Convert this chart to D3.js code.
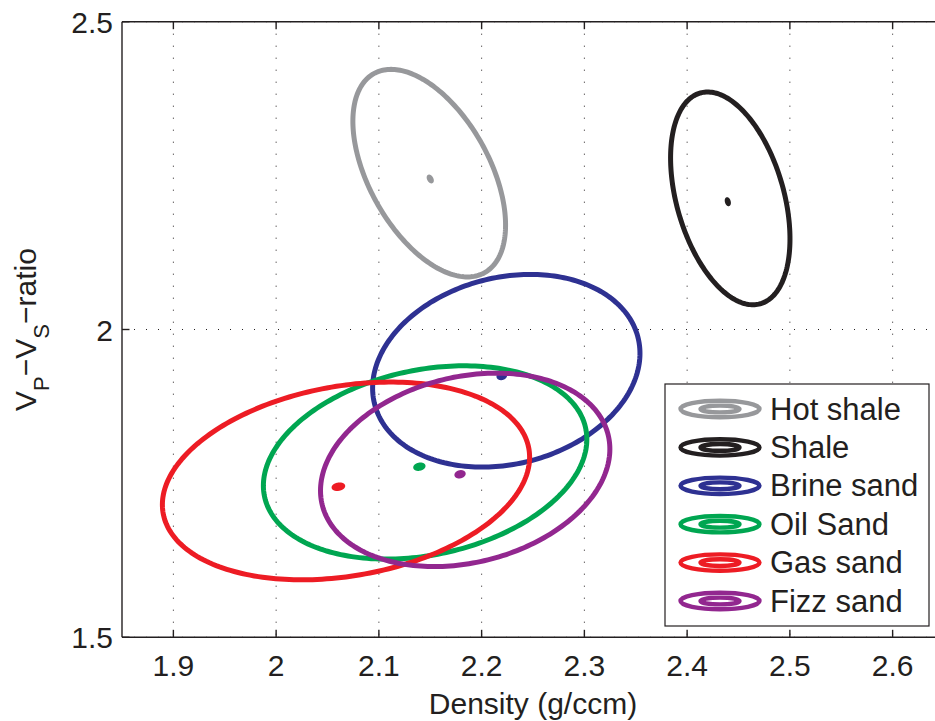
<!DOCTYPE html>
<html>
<head>
<meta charset="utf-8">
<script src="https://cdn.jsdelivr.net/npm/d3@7"></script>
<style>
  html, body { margin: 0; padding: 0; background: #fff; }
  svg { display: block; font-family: "Liberation Sans", Arial, Helvetica, sans-serif; }
</style>
</head>
<body>
<svg id="chart" width="935" height="721"></svg>
<script>
// ---- data ----
const categories = ["Hot shale", "Shale", "Brine sand", "Oil Sand", "Gas sand", "Fizz sand"];
const colors = ["#97989b", "#231f20", "#2e3192", "#00a651", "#ed1c24", "#92278f"];
// ellipse centre (density, Vp/Vs)
const densityCenter = [2.149, 2.442, 2.224, 2.145, 2.068, 2.184];
const vpvsCenter = [2.254, 2.213, 1.933, 1.784, 1.754, 1.772];
// ellipse half extents and correlation
const densitySpread = [0.0743, 0.0581, 0.1301, 0.1574, 0.1787, 0.1408];
const vpvsSpread = [0.1686, 0.1728, 0.1565, 0.1570, 0.1606, 0.1571];
const correlation = [-0.50, -0.38, 0.18, 0.24, 0.24, 0.215];
// small mean markers
const meanDensity = [2.150, 2.4396, 2.2196, 2.1394, 2.0606, 2.179];
const meanVpvs = [2.2445, 2.2076, 1.9245, 1.7771, 1.7446, 1.7648];
// axes
const xTicks = [1.9, 2.0, 2.1, 2.2, 2.3, 2.4, 2.5, 2.6];
const xTickLabels = ["1.9", "2", "2.1", "2.2", "2.3", "2.4", "2.5", "2.6"];
const yTicks = [1.5, 2.0, 2.5];
const yTickLabels = ["1.5", "2", "2.5"];
const xDomain = [1.85, 2.65];
const yDomain = [1.5, 2.5];

(function () {
// ---- layout ----
const svg = d3.select("#chart");
const pL = 122, pR = 944, pT = 21.7, pB = 637.3;
const x = d3.scaleLinear().domain(xDomain).range([pL, pR]);
const y = d3.scaleLinear().domain(yDomain).range([pB, pT]);
const ink = "#231f20";

// grid
const grid = svg.append("g");
grid.selectAll("line.gx").data(xTicks).join("line")
  .attr("x1", d => x(d)).attr("x2", d => x(d))
  .attr("y1", pT).attr("y2", pB)
  .attr("stroke", ink).attr("stroke-width", 1).attr("stroke-dasharray", "1,11");
grid.selectAll("line.gy").data(yTicks).join("line")
  .attr("y1", d => y(d)).attr("y2", d => y(d))
  .attr("x1", pL).attr("x2", pR)
  .attr("stroke", ink).attr("stroke-width", 1).attr("stroke-dasharray", "1,11");

// ellipses
const N = 240;
const ts = d3.range(N).map(i => 2 * Math.PI * i / N);
const line = d3.line().curve(d3.curveLinearClosed);
function ellipsePts(i, cxv, cyv, k) {
  const r = correlation[i];
  return ts.map(t => [
    x(cxv + k * densitySpread[i] * Math.cos(t)),
    y(cyv + k * vpvsSpread[i] * (r * Math.cos(t) + Math.sqrt(1 - r * r) * Math.sin(t)))
  ]);
}
const eg = svg.append("g");
categories.forEach((c, i) => {
  eg.append("path")
    .attr("d", line(ellipsePts(i, densityCenter[i], vpvsCenter[i], 1)))
    .attr("fill", "none").attr("stroke", colors[i]).attr("stroke-width", 5);
  eg.append("path")
    .attr("d", line(ellipsePts(i, meanDensity[i], meanVpvs[i], 0.03)))
    .attr("fill", colors[i]).attr("stroke", colors[i]).attr("stroke-width", 2.6);
});

// axes box lines and ticks
const ax = svg.append("g").attr("stroke", ink).attr("stroke-width", 1.4);
ax.append("line").attr("x1", pL).attr("x2", pR).attr("y1", pB).attr("y2", pB);
ax.append("line").attr("x1", pL).attr("x2", pR).attr("y1", pT).attr("y2", pT);
ax.append("line").attr("x1", pL).attr("x2", pL).attr("y1", pT).attr("y2", pB);
ax.append("line").attr("x1", pR).attr("x2", pR).attr("y1", pT).attr("y2", pB);
const tl = 7.5;
xTicks.forEach(v => {
  ax.append("line").attr("x1", x(v)).attr("x2", x(v)).attr("y1", pB).attr("y2", pB - tl);
  ax.append("line").attr("x1", x(v)).attr("x2", x(v)).attr("y1", pT).attr("y2", pT + tl);
});
yTicks.forEach(v => {
  ax.append("line").attr("y1", y(v)).attr("y2", y(v)).attr("x1", pL).attr("x2", pL + tl);
  ax.append("line").attr("y1", y(v)).attr("y2", y(v)).attr("x1", pR).attr("x2", pR - tl);
});

// tick labels
svg.append("g").selectAll("text").data(xTicks).join("text")
  .attr("x", d => x(d)).attr("y", 676)
  .attr("text-anchor", "middle").attr("font-size", 30).attr("fill", ink)
  .text((d, i) => xTickLabels[i]);
svg.append("g").selectAll("text").data(yTicks).join("text")
  .attr("x", pL - 9).attr("y", d => y(d) + 11)
  .attr("text-anchor", "end").attr("font-size", 30).attr("fill", ink)
  .text((d, i) => yTickLabels[i]);

// axis titles
svg.append("text").attr("x", (pL + pR) / 2).attr("y", 714)
  .attr("text-anchor", "middle").attr("font-size", 30).attr("fill", ink)
  .text("Density (g/ccm)");
const yl = svg.append("text")
  .attr("transform", `translate(36,${(pT + pB) / 2}) rotate(-90)`)
  .attr("text-anchor", "middle").attr("font-size", 30).attr("fill", ink);
yl.append("tspan").text("V");
yl.append("tspan").attr("font-size", 22).attr("dy", 13).text("P");
yl.append("tspan").attr("dy", -13).text("\u2212V");
yl.append("tspan").attr("font-size", 22).attr("dy", 13).text("S");
yl.append("tspan").attr("dy", -13).text("\u2212ratio");

// legend
const lg = svg.append("g");
lg.append("rect").attr("x", 665).attr("y", 384).attr("width", 264).attr("height", 242)
  .attr("fill", "#fff").attr("stroke", ink).attr("stroke-width", 1.2);
categories.forEach((c, i) => {
  const cy = 409 + i * 38.4;
  lg.append("ellipse").attr("cx", 720).attr("cy", cy).attr("rx", 39.5).attr("ry", 8.2)
    .attr("fill", "none").attr("stroke", colors[i]).attr("stroke-width", 4.4);
  lg.append("ellipse").attr("cx", 720).attr("cy", cy).attr("rx", 19.5).attr("ry", 3.4)
    .attr("fill", "none").attr("stroke", colors[i]).attr("stroke-width", 4.4);
  lg.append("text").attr("x", 770).attr("y", cy + 10.5)
    .attr("font-size", 31).attr("fill", ink).text(c);
});
})();
</script>
</body>
</html>
